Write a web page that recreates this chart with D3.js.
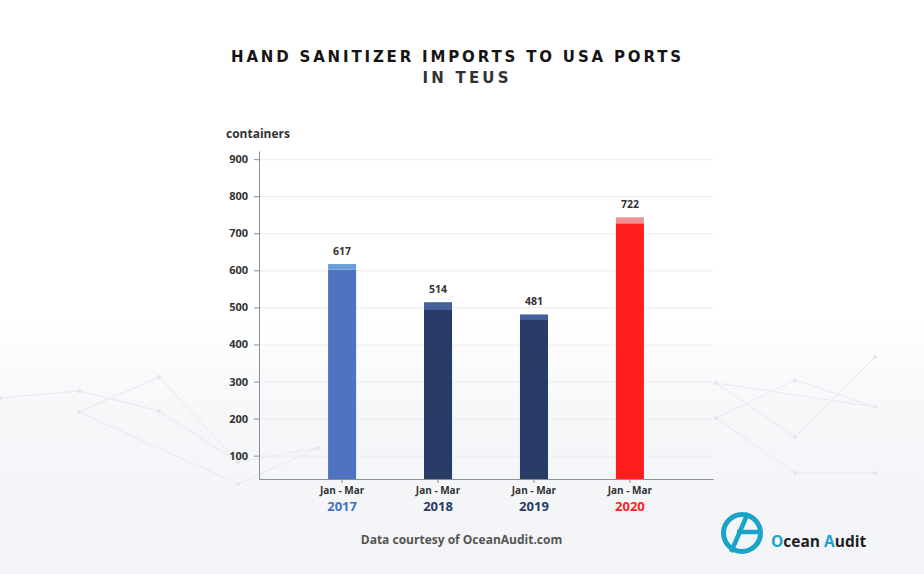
<!DOCTYPE html>
<html>
<head>
<meta charset="utf-8">
<script src="https://cdn.jsdelivr.net/npm/d3@7"></script>
<style>
  html, body { margin: 0; padding: 0; background: #fff; }
  svg { display: block; }
</style>
</head>
<body>
<div id="chart"></div>
<script>
// chart data
var periods = ["2017", "2018", "2019", "2020"];
var periodLabel = "Jan - Mar";
var baseValues = [602, 493, 466, 727];   // main bar part
var capValues = [15, 21, 15, 16];        // lighter top part
var valueLabels = [617, 514, 481, 722];
var yTicks = [100, 200, 300, 400, 500, 600, 700, 800, 900];

var baseColors = ["#4f73c1", "#283b67", "#283b67", "#ff1d1d"];
var capColors = ["#6a9fd6", "#43609b", "#43609b", "#f09090"];
var yearColors = ["#4472c4", "#283b67", "#283b67", "#ff1d1d"];

// background network decoration
var bgNodes = [[0, 398], [79, 391], [159, 377], [79, 412], [159, 411], [238, 462], [238, 484], [318, 448],
  [716, 383], [795, 380], [875, 357], [875, 407], [795, 437], [716, 418], [795, 473], [875, 473]];
var bgEdges = [[0, 1], [1, 4], [3, 2], [2, 5], [4, 5], [3, 6], [6, 7], [7, 5],
  [8, 12], [12, 10], [13, 9], [9, 11], [11, 8], [14, 15], [13, 14]];

var width = 924;
var height = 574;

var svg = d3.select("#chart")
  .append("svg")
  .attr("width", width)
  .attr("height", height)
  .style("font-family", "'Open Sans', sans-serif");

// background
var defs = svg.append("defs");
var grad = defs.append("linearGradient")
  .attr("id", "bg")
  .attr("x1", 0).attr("y1", 0).attr("x2", 0).attr("y2", 1);
grad.append("stop").attr("offset", "0.55").attr("stop-color", "#ffffff");
grad.append("stop").attr("offset", "0.72").attr("stop-color", "#f6f7f9");
grad.append("stop").attr("offset", "1").attr("stop-color", "#f2f4f7");
svg.append("rect").attr("width", width).attr("height", height).attr("fill", "url(#bg)");

var deco = svg.append("g");
deco.selectAll("line")
  .data(bgEdges)
  .enter()
  .append("line")
  .attr("x1", d => bgNodes[d[0]][0])
  .attr("y1", d => bgNodes[d[0]][1])
  .attr("x2", d => bgNodes[d[1]][0])
  .attr("y2", d => bgNodes[d[1]][1])
  .attr("stroke", "#e6e9ee")
  .attr("stroke-width", 1);
deco.selectAll("circle")
  .data(bgNodes)
  .enter()
  .append("circle")
  .attr("cx", d => d[0])
  .attr("cy", d => d[1])
  .attr("r", 2)
  .attr("fill", "#e3e6eb");

// title
svg.append("text")
  .attr("x", 456)
  .attr("y", 62)
  .attr("text-anchor", "middle")
  .attr("textLength", 450)
  .attr("lengthAdjust", "spacing")
  .style("font-family", "'DejaVu Sans', sans-serif")
  .style("font-weight", 700)
  .style("font-size", "15px")
  .attr("fill", "#151515")
  .text("HAND SANITIZER IMPORTS TO USA PORTS");
svg.append("text")
  .attr("x", 465.5)
  .attr("y", 83)
  .attr("text-anchor", "middle")
  .attr("textLength", 86)
  .attr("lengthAdjust", "spacing")
  .style("font-family", "'DejaVu Sans', sans-serif")
  .style("font-weight", 700)
  .style("font-size", "15px")
  .attr("fill", "#333")
  .text("IN TEUS");

// scales
var x = d3.scaleBand()
  .domain(periods)
  .range([259, 713])
  .paddingInner(0.708)
  .paddingOuter(0.72);

var y = d3.scaleLinear()
  .domain([37, 922])
  .range([479, 151]);

var y0 = y.domain()[0];

// gridlines
svg.append("g")
  .attr("transform", "translate(259,0)")
  .call(d3.axisLeft(y).tickValues(yTicks).tickSize(-454).tickFormat(""))
  .call(g => g.select(".domain").remove())
  .call(g => g.selectAll(".tick line").attr("stroke", "#ececef"));

// y axis
svg.append("g")
  .attr("transform", "translate(259,0)")
  .call(d3.axisLeft(y).tickValues(yTicks).tickSize(5).tickSizeOuter(0).tickPadding(6))
  .call(g => g.select(".domain").attr("stroke", "#8a8f98"))
  .call(g => g.selectAll(".tick line").attr("stroke", "#8a8f98"))
  .call(g => g.selectAll(".tick text")
    .attr("fill", "#333")
    .style("font-size", "11px")
    .style("font-weight", 700)
    .style("font-family", "'Open Sans', sans-serif"));

svg.append("text")
  .attr("x", 226)
  .attr("y", 138)
  .attr("fill", "#333")
  .style("font-size", "12px")
  .style("font-weight", 700)
  .text("containers");

// bars
var bars = svg.append("g");
bars.selectAll(".base")
  .data(periods)
  .enter()
  .append("rect")
  .attr("class", "base")
  .attr("x", d => x(d))
  .attr("width", x.bandwidth())
  .attr("y", (d, i) => y(baseValues[i]))
  .attr("height", (d, i) => y(y0) - y(baseValues[i]))
  .attr("fill", (d, i) => baseColors[i]);
bars.selectAll(".cap")
  .data(periods)
  .enter()
  .append("rect")
  .attr("class", "cap")
  .attr("x", d => x(d))
  .attr("width", x.bandwidth())
  .attr("y", (d, i) => y(baseValues[i] + capValues[i]))
  .attr("height", (d, i) => y(baseValues[i]) - y(baseValues[i] + capValues[i]))
  .attr("fill", (d, i) => capColors[i]);

// value labels
svg.append("g")
  .selectAll("text")
  .data(periods)
  .enter()
  .append("text")
  .attr("x", d => x(d) + x.bandwidth() / 2)
  .attr("y", (d, i) => y(baseValues[i] + capValues[i]) - 9)
  .attr("text-anchor", "middle")
  .attr("fill", "#333")
  .style("font-size", "10.5px")
  .style("font-weight", 700)
  .text((d, i) => valueLabels[i]);

// x axis
svg.append("g")
  .attr("transform", "translate(0,479)")
  .call(d3.axisBottom(x).tickSize(4).tickSizeOuter(0).tickFormat(""))
  .call(g => g.select(".domain").attr("stroke", "#8a8f98"))
  .call(g => g.selectAll(".tick line").attr("stroke", "#8a8f98"));

var xl = svg.append("g")
  .selectAll("g")
  .data(periods)
  .enter()
  .append("g")
  .attr("transform", d => `translate(${x(d) + x.bandwidth() / 2},0)`);
xl.append("text")
  .attr("y", 494)
  .attr("text-anchor", "middle")
  .attr("fill", "#333")
  .style("font-size", "10px")
  .style("font-weight", 700)
  .text(periodLabel);
xl.append("text")
  .attr("y", 510.5)
  .attr("text-anchor", "middle")
  .attr("fill", (d, i) => yearColors[i])
  .style("font-size", "13px")
  .style("font-weight", 700)
  .text(d => d);

// source note
svg.append("text")
  .attr("x", 461.5)
  .attr("y", 544)
  .attr("text-anchor", "middle")
  .attr("fill", "#555")
  .style("font-size", "12px")
  .style("font-weight", 700)
  .text("Data courtesy of OceanAudit.com");

// logo
var logo = svg.append("g");
logo.append("circle")
  .attr("cx", 742)
  .attr("cy", 533)
  .attr("r", 18.5)
  .attr("fill", "none")
  .attr("stroke", "#1ba3c9")
  .attr("stroke-width", 5);
logo.append("line")
  .attr("x1", 731).attr("y1", 552)
  .attr("x2", 748).attr("y2", 513)
  .attr("stroke", "#1ba3c9")
  .attr("stroke-width", 4.5);
logo.append("line")
  .attr("x1", 737).attr("y1", 532)
  .attr("x2", 761).attr("y2", 532)
  .attr("stroke", "#1ba3c9")
  .attr("stroke-width", 4.5);
var lt = logo.append("text")
  .attr("x", 771)
  .attr("y", 547)
  .style("font-size", "15.5px")
  .style("font-weight", 700)
  .attr("fill", "#1e1e1e");
lt.append("tspan").attr("fill", "#1ba3c9").text("O");
lt.append("tspan").text("cean ");
lt.append("tspan").attr("fill", "#1ba3c9").text("A");
lt.append("tspan").text("udit");
</script>
</body>
</html>
